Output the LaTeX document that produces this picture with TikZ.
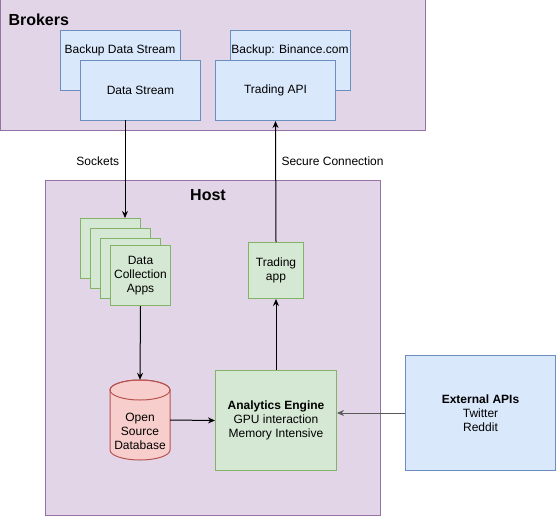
\documentclass[tikz,border=0pt]{standalone}
\usepackage{fontspec}
\setmainfont{Liberation Sans}
\usetikzlibrary{arrows.meta}
\definecolor{grpfill}{HTML}{E1D5E7}
\definecolor{grpline}{HTML}{9673A6}
\definecolor{bluefill}{HTML}{DAE8FC}
\definecolor{blueline}{HTML}{6C8EBF}
\definecolor{greenfill}{HTML}{D5E8D4}
\definecolor{greenline}{HTML}{82B366}
\definecolor{redfill}{HTML}{F8CECC}
\definecolor{redline}{HTML}{B85450}
\tikzset{
  grp/.style={draw=grpline,fill=grpfill,line width=1pt},
  bluebox/.style={draw=blueline,fill=bluefill,line width=1pt,anchor=north west,
    minimum width=120pt,minimum height=60pt,align=center,inner sep=0pt},
  greenbox/.style={draw=greenline,fill=greenfill,line width=1pt,anchor=north west,
    minimum width=60pt,minimum height=60pt,align=center,inner sep=0pt},
  title/.style={font=\fontsize{16}{18}\selectfont\bfseries},
  arr/.style={line width=1pt,-{Stealth[length=7pt,width=6pt]}},
}
\begin{document}
\begin{tikzpicture}[x=1pt,y=-1pt,font=\fontsize{12}{14}\selectfont]
  \useasboundingbox (0,0) rectangle (556,516);

  % Brokers group
  \draw[grp] (0,0) rectangle (425,130);
  \node[title,anchor=west] (brokers) at (5,20) {Brokers};
  \node[bluebox,text height=9pt,anchor=north west] (backupstream) at (60,30) {};
  \node (backupstreamtext) at (120,50) {Backup Data Stream};
  \node[bluebox] (stream) at (80,60) {Data Stream};
  \node[bluebox] (backupapi) at (230,30) {};
  \node (backupapitext) at (290,50) {Backup: Binance.com};
  \node[bluebox] (tradeapi) at (215,60) {Trading API};

  % Host group
  \draw[grp] (45,180) rectangle (380,515);
  \node[title] (host) at (208,195) {Host};
  \foreach \i/\x/\y in {1/80/218,2/90/228,3/100/238}{
    \node[greenbox] (apps\i) at (\x,\y) {};
  }
  \node[greenbox] (apps4) at (110,245) {Data\\Collection\\Apps};
  \node[greenbox,minimum width=55pt,minimum height=56pt] (tradeapp) at (248,242) {Trading\\app};

  % database cylinder
  \draw[draw=redline,fill=redfill,line width=1pt] (110,390) -- (110,450)
    arc[start angle=180,end angle=0,x radius=30,y radius=10] -- (170,390)
    arc[start angle=0,end angle=-180,x radius=30,y radius=10] -- cycle;
  \draw[draw=redline,line width=1pt] (140,390) ellipse[x radius=30,y radius=10];
  \node[minimum width=60pt,minimum height=80pt,inner sep=0pt] (db) at (140,420) {};
  \node[align=center] (dbtext) at (140,431) {Open\\Source\\Database};

  \node[greenbox,minimum width=121pt,minimum height=100pt] (engine) at (215,370)
    {\textbf{Analytics Engine}\\GPU interaction\\Memory Intensive};

  \node[bluebox,minimum width=150pt,minimum height=115pt] (ext) at (405,355)
    {\textbf{External APIs}\\Twitter\\Reddit};

  % connectors
  \coordinate (sockettop) at (125,120);
  \draw[arr] (sockettop) -- node[pos=0.42,left=2pt] {Sockets} (sockettop |- apps1.north);
  \draw[arr] (tradeapp.north) -- node[pos=0.67,right=2pt] {Secure Connection} (tradeapi.south);
  \draw[arr] (apps4.south) -- (db.north);
  \draw[arr] (db.east) -- (engine.west);
  \draw[arr] (engine.north) -- (tradeapp.south);
  \draw[arr,draw=black!65] (ext.west) -- (ext.west -| engine.east);
\end{tikzpicture}
\end{document}
